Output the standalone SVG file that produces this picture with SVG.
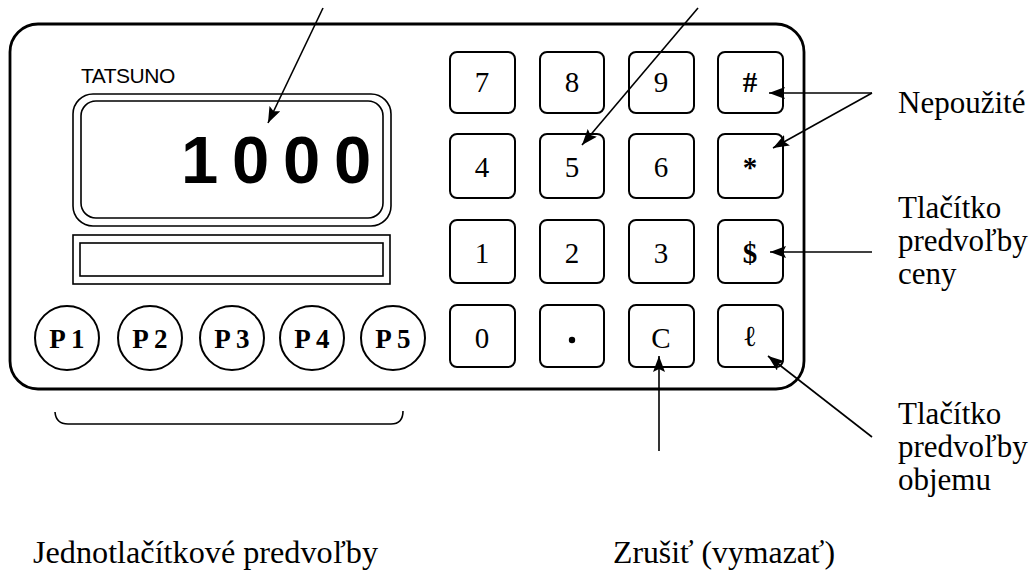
<svg xmlns="http://www.w3.org/2000/svg" width="1036" height="574" viewBox="0 0 1036 574">
<style>
.frame{fill:none;stroke:#000;stroke-width:2.8}
.key{fill:none;stroke:#000;stroke-width:2}
.thin{fill:none;stroke:#000;stroke-width:1.6}
.kl{font-family:"Liberation Serif","Times New Roman",serif;font-size:29px;text-anchor:middle;fill:#000}
.pl{font-family:"Liberation Serif","Times New Roman",serif;font-size:27px;font-weight:bold;text-anchor:middle;fill:#000}
.lab{font-family:"Liberation Serif","Times New Roman",serif;font-size:31px;fill:#000}
.conn{fill:none;stroke:#000;stroke-width:1.6}
</style>
<defs>
<marker id="ah" markerUnits="userSpaceOnUse" markerWidth="17" markerHeight="12" refX="16" refY="6" orient="auto">
<path d="M0,0 L16,6 L0,12 L3,6 z" fill="#000"/>
</marker>
</defs>
<rect width="1036" height="574" fill="#fff"/>
<g id="housing">
<rect class="frame" x="10" y="24" width="794" height="365" rx="28" ry="28"/>
</g>
<g id="brand">
<text x="81" y="83" font-family="Liberation Sans,Arial,sans-serif" font-size="21" letter-spacing="-0.5">TATSUNO</text>
</g>
<g id="display">
<rect class="thin" x="73" y="94" width="318" height="132" rx="20"/>
<rect class="thin" x="81" y="101" width="302" height="117" rx="15"/>
<text y="183" font-family="Liberation Sans,Arial,sans-serif" font-size="67" font-weight="bold" x="181 232 283 334">1000</text>
</g>
<g id="bar">
<rect class="thin" x="73" y="235" width="317" height="49"/>
<rect class="thin" x="80" y="243" width="303" height="33"/>
</g>
<g id="presets">
<g id="p1"><circle class="key" cx="67" cy="338" r="32"/><text class="pl" x="67" y="348">P 1</text></g>
<g id="p2"><circle class="key" cx="150" cy="338" r="32"/><text class="pl" x="150" y="348">P 2</text></g>
<g id="p3"><circle class="key" cx="232" cy="338" r="32"/><text class="pl" x="232" y="348">P 3</text></g>
<g id="p4"><circle class="key" cx="312" cy="338" r="32"/><text class="pl" x="312" y="348">P 4</text></g>
<g id="p5"><circle class="key" cx="393" cy="338" r="32"/><text class="pl" x="393" y="348">P 5</text></g>
</g>
<g id="keypad">
<g id="k7"><rect class="key" x="450" y="52" width="65" height="61" rx="7"/><text class="kl" x="482" y="92">7</text></g>
<g id="k8"><rect class="key" x="540" y="52" width="64" height="61" rx="7"/><text class="kl" x="572" y="92">8</text></g>
<g id="k9"><rect class="key" x="629" y="52" width="65" height="61" rx="7"/><text class="kl" x="661" y="92">9</text></g>
<g id="khash"><rect class="key" x="718" y="52" width="65" height="61" rx="7"/><text class="kl" x="750" y="92" font-weight="bold">#</text></g>
<g id="k4"><rect class="key" x="450" y="134" width="65" height="64" rx="7"/><text class="kl" x="482" y="177">4</text></g>
<g id="k5"><rect class="key" x="540" y="134" width="64" height="64" rx="7"/><text class="kl" x="572" y="177">5</text></g>
<g id="k6"><rect class="key" x="629" y="134" width="65" height="64" rx="7"/><text class="kl" x="661" y="177">6</text></g>
<g id="kstar"><rect class="key" x="718" y="134" width="65" height="64" rx="7"/><text class="kl" x="750" y="177" font-weight="bold">*</text></g>
<g id="k1"><rect class="key" x="450" y="220" width="65" height="63" rx="7"/><text class="kl" x="482" y="263">1</text></g>
<g id="k2"><rect class="key" x="540" y="220" width="64" height="63" rx="7"/><text class="kl" x="572" y="263">2</text></g>
<g id="k3"><rect class="key" x="629" y="220" width="65" height="63" rx="7"/><text class="kl" x="661" y="263">3</text></g>
<g id="kdollar"><rect class="key" x="718" y="220" width="65" height="63" rx="7"/><text class="kl" x="750" y="263" font-weight="bold">$</text></g>
<g id="k0"><rect class="key" x="450" y="305" width="65" height="62" rx="7"/><text class="kl" x="482" y="348">0</text></g>
<g id="kdot"><rect class="key" x="540" y="305" width="64" height="62" rx="7"/><circle cx="572" cy="340" r="3.2" fill="#000"/></g>
<g id="kc"><rect class="key" x="629" y="305" width="65" height="62" rx="7"/><text class="kl" x="661" y="348">C</text></g>
<g id="kl"><rect class="key" x="718" y="305" width="65" height="62" rx="7"/><text class="kl" x="750" y="346" font-weight="bold" font-size="25">ℓ</text></g>
</g>
<g id="connectors">
<line class="conn" x1="323" y1="8" x2="268" y2="123" marker-end="url(#ah)"/>
<line class="conn" x1="698" y1="8" x2="582" y2="145" marker-end="url(#ah)"/>
<line class="conn" x1="872" y1="93" x2="769" y2="93" marker-end="url(#ah)"/>
<line class="conn" x1="872" y1="93" x2="773" y2="148" marker-end="url(#ah)"/>
<line class="conn" x1="872" y1="252" x2="770" y2="252" marker-end="url(#ah)"/>
<line class="conn" x1="659" y1="451" x2="659" y2="356" marker-end="url(#ah)"/>
<line class="conn" x1="872" y1="437" x2="768" y2="356" marker-end="url(#ah)"/>
<path class="conn" d="M55,412 Q56,424 68,424 L391,424 Q403,424 403,411"/>
</g>
<g id="labels">
<text class="lab" x="898" y="113">Nepoužité</text>
<text class="lab" x="898" y="218">Tlačítko</text>
<text class="lab" x="898" y="251">predvoľby</text>
<text class="lab" x="898" y="284">ceny</text>
<text class="lab" x="898" y="424">Tlačítko</text>
<text class="lab" x="898" y="457">predvoľby</text>
<text class="lab" x="898" y="490">objemu</text>
<text class="lab" x="33" y="563" textLength="345" lengthAdjust="spacingAndGlyphs">Jednotlačítkové predvoľby</text>
<text class="lab" x="613" y="563" textLength="222" lengthAdjust="spacingAndGlyphs">Zrušiť (vymazať)</text>
</g>
</svg>
